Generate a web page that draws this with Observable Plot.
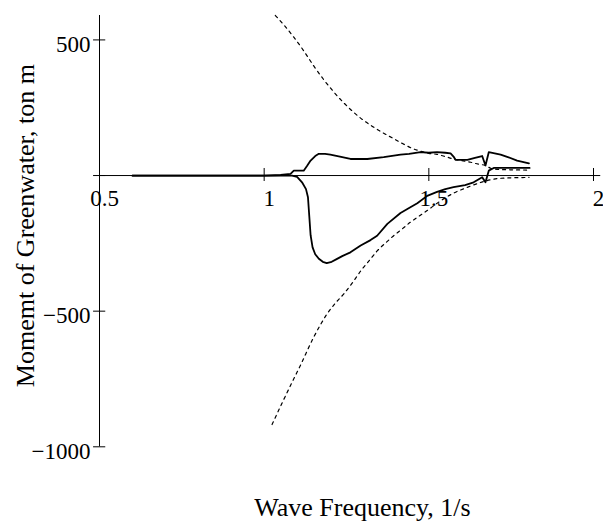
<!DOCTYPE html>
<html>
<head>
<meta charset="utf-8">
<script src="https://cdn.jsdelivr.net/npm/d3@7"></script>
<script src="https://cdn.jsdelivr.net/npm/@observablehq/plot@0.6"></script>
<style>
  html, body { margin: 0; padding: 0; background: white; }
  #chart svg { display: block; }
</style>
</head>
<body>
<div id="chart"></div>
<script>
// Tick values and labels
const xTicks = [0.5, 1, 1.5, 2];
const xTickLabels = ["0.5", "1", "1.5", "2"];
const yTicks = [500, 0, -500, -1000];
const yTickLabels = ["500", "", "\u2212500", "\u22121000"];
const xLabel = "Wave Frequency, 1/s";
const yLabel = "Momemt of Greenwater, ton m";

// Solid curve (upper, positive moment)
const upperSolidFreq = [0.6, 0.8, 1.0, 1.05, 1.08, 1.09, 1.12, 1.13, 1.141, 1.155, 1.166, 1.185, 1.201, 1.23, 1.262, 1.313, 1.363, 1.414, 1.44, 1.475, 1.5, 1.525, 1.55, 1.566, 1.575, 1.581, 1.6, 1.617, 1.64, 1.662, 1.672, 1.682, 1.7, 1.718, 1.74, 1.768, 1.804];
const upperSolidVal  = [0, 0, 0, 2, 6, 18, 18, 35, 55, 72, 80, 80, 77, 70, 61, 61, 68, 77, 80, 86, 84, 86, 84, 82, 70, 58, 58, 58, 65, 72, 37, 86, 82, 77, 68, 55, 45];

// Solid curve (lower, negative moment)
const lowerSolidFreq = [0.6, 0.8, 1.0, 1.05, 1.085, 1.1, 1.115, 1.127, 1.133, 1.137, 1.141, 1.147, 1.155, 1.166, 1.178, 1.19, 1.205, 1.22, 1.237, 1.262, 1.293, 1.323, 1.343, 1.374, 1.414, 1.44, 1.465, 1.495, 1.525, 1.55, 1.575, 1.61, 1.636, 1.662, 1.672, 1.682, 1.697, 1.75, 1.806];
const lowerSolidVal  = [0, 0, 0, 0, 0, -5, -25, -50, -80, -150, -220, -265, -290, -307, -318, -323, -318, -308, -297, -283, -258, -238, -222, -178, -138, -120, -102, -75, -60, -50, -43, -35, -25, -6, -25, 18, 28, 28, 28];

// Dotted envelope (upper)
const upperDotFreq = [1.034, 1.06, 1.09, 1.12, 1.15, 1.18, 1.21, 1.24, 1.27, 1.30, 1.33, 1.36, 1.39, 1.42, 1.45, 1.48, 1.5, 1.525, 1.55, 1.575, 1.6, 1.627, 1.65, 1.672, 1.69, 1.72, 1.76, 1.804];
const upperDotVal  = [590, 555, 510, 460, 405, 355, 310, 270, 235, 205, 180, 158, 138, 118, 100, 88, 82, 78, 70, 61, 55, 49, 42, 37, 26, 22, 21, 20];

// Dotted envelope (lower)
const lowerDotFreq = [1.024, 1.05, 1.08, 1.11, 1.15, 1.17, 1.191, 1.215, 1.242, 1.27, 1.293, 1.32, 1.343, 1.37, 1.394, 1.42, 1.444, 1.47, 1.495, 1.53, 1.57, 1.62, 1.667, 1.72, 1.804];
const lowerDotVal  = [-918, -850, -774, -700, -597, -552, -510, -472, -436, -392, -352, -312, -278, -247, -221, -196, -172, -150, -129, -98, -68, -42, -22, -10, -7];

const zip = (xs, ys) => xs.map((x, i) => ({x, y: ys[i]}));

const font = "'Liberation Serif', 'Times New Roman', serif";

const chart = Plot.plot({
  width: 603,
  height: 523,
  marginLeft: 99,
  marginRight: 10,
  marginTop: 15,
  marginBottom: 76.7,
  x: {domain: [0.5, 2], axis: null},
  y: {domain: [-1000, 590], axis: null},
  style: {fontFamily: font, background: "white", color: "black"},
  marks: [
    // tick labels (under the curves)
    Plot.text(xTicks, {x: d => d, y: () => 0, text: (d, i) => xTickLabels[i], dx: 5, dy: 13.7, lineAnchor: "top", textAnchor: "middle", fontSize: 23, fill: "black"}),
    Plot.text(yTicks, {x: () => 0.5, y: d => d, text: (d, i) => yTickLabels[i], dx: -9, dy: 4.5, textAnchor: "end", lineAnchor: "middle", fontSize: 23, fill: "black"}),
    // axes lines
    Plot.ruleY([0], {x1: 0.5, x2: 2.022, stroke: "black", strokeWidth: 1}),
    Plot.ruleX([0.5], {y1: -1000, y2: 590, stroke: "black", strokeWidth: 1}),
    // ticks
    Plot.ruleX(xTicks, {x: d => d, y1: -22, y2: 26, stroke: "black", strokeWidth: 1}),
    Plot.ruleY(yTicks, {y: d => d, x1: 0.482, x2: 0.519, stroke: "black", strokeWidth: 1}),
    // curves
    Plot.line(zip(upperDotFreq, upperDotVal), {x: "x", y: "y", stroke: "black", strokeWidth: 1.2, strokeDasharray: "3,4", curve: "monotone-x"}),
    Plot.line(zip(lowerDotFreq, lowerDotVal), {x: "x", y: "y", stroke: "black", strokeWidth: 1.2, strokeDasharray: "3,4", curve: "monotone-x"}),
    Plot.line(zip(upperSolidFreq, upperSolidVal), {x: "x", y: "y", stroke: "black", strokeWidth: 1.8}),
    Plot.line(zip(lowerSolidFreq, lowerSolidVal), {x: "x", y: "y", stroke: "black", strokeWidth: 1.8}),
    // axis titles
    Plot.text([xLabel], {frameAnchor: "bottom", text: d => d, dx: 16, dy: 69, lineAnchor: "bottom", textAnchor: "middle", fontSize: 26, fill: "black"}),
    Plot.text([yLabel], {frameAnchor: "left", text: d => d, rotate: -90, dx: -66, dy: -5.6, lineAnchor: "bottom", textAnchor: "middle", fontSize: 26, fill: "black"})
  ]
});

document.getElementById("chart").appendChild(chart);
</script>
</body>
</html>
